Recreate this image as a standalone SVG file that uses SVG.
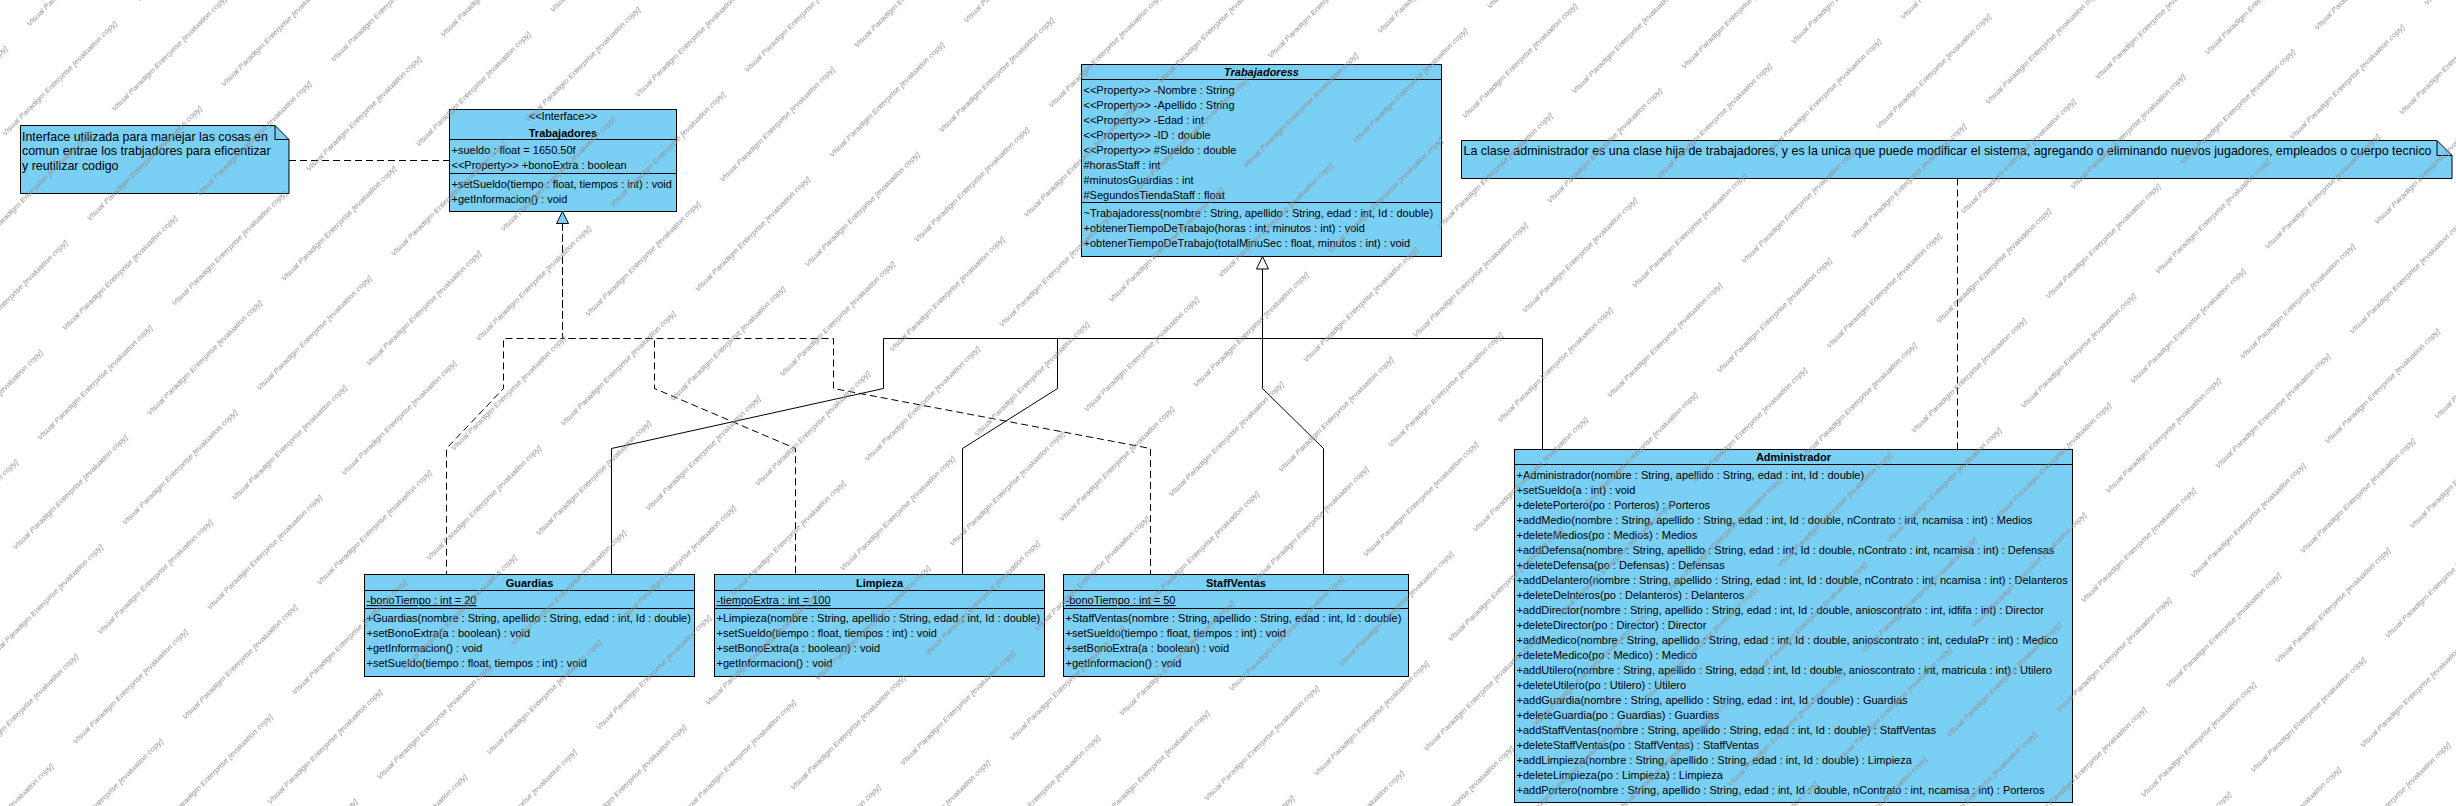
<svg xmlns="http://www.w3.org/2000/svg" width="2456" height="806" viewBox="0 0 2456 806">
<style>
.cls{fill:#7ACFF5;stroke:#000;stroke-width:1}
.note{fill:#7ACFF5;stroke:#000;stroke-width:1}
.fold{fill:none;stroke:#000;stroke-width:1}
.sep{stroke:#000;stroke-width:1}
.t{font-family:"Liberation Sans",Arial,sans-serif;font-size:11px;fill:#000}
.n{font-family:"Liberation Sans",Arial,sans-serif;font-size:12.4px;fill:#000}
.b{font-weight:bold}
.bi{font-weight:bold;font-style:italic}
.c{text-anchor:middle}
.u{text-decoration:underline}
.solid{fill:none;stroke:#000;stroke-width:1}
.dash{fill:none;stroke:#000;stroke-width:1;stroke-dasharray:7,4}
.wm{font-family:"Liberation Sans",Arial,sans-serif;font-style:italic;font-size:8px;fill:#8e8e8e}
</style>
<defs>
<pattern id="wm" patternUnits="userSpaceOnUse" width="190" height="120" patternTransform="rotate(-45)">
<text class="wm" x="2" y="40">Visual Paradigm Enterprise [evaluation copy]</text>
<text class="wm" x="97" y="100">Visual Paradigm Enterprise [evaluation copy]</text>
<text class="wm" x="-93" y="100">Visual Paradigm Enterprise [evaluation copy]</text>
</pattern>
</defs>
<rect x="0" y="0" width="2456" height="806" fill="#fff"/>

<g id="connectors">
<path class="dash" d="M289,160.5 H449"/>
<path class="dash" d="M1957.5,178.5 V449"/>
<path class="dash" d="M562.5,223.5 V338.5 H503.5 V388.5 L446.5,448.5 V574"/>
<path class="dash" d="M562.5,223.5 V338.5 H654.5 V388.5 L795.5,448.5 V574"/>
<path class="dash" d="M562.5,223.5 V338.5 H833.5 V388.5 L1150.5,448.5 V574"/>
<polygon class="cls" points="562.5,211.5 556.5,223.5 568.5,223.5"/>
<path class="solid" d="M1262.5,269 V388.5 L1323.5,448.5 V574"/>
<path class="solid" d="M1262.5,338.5 H883.5 V388.5 L611.5,448.5 V574"/>
<path class="solid" d="M1262.5,338.5 H1057.5 V388.5 L962.5,448.5 V574"/>
<path class="solid" d="M1262.5,338.5 H1542.5 V449"/>
<polygon points="1262.5,256.5 1256.5,269 1268.5,269" fill="#fff" stroke="#000" stroke-width="1"/>
</g>

<g id="note-interface">
<path class="note" d="M20.5,125.5 H275 L289,139.5 V193.5 H20.5 Z"/>
<path class="fold" d="M275,125.5 V139.5 H289"/>
<text class="n" x="22" y="140.5">Interface utilizada para manejar las cosas en</text>
<text class="n" x="22" y="155">comun entrae los trabjadores para eficentizar</text>
<text class="n" x="22" y="169.5">y reutilizar codigo</text>
</g>

<g id="note-administrador">
<path class="note" d="M1461.5,140.5 H2437 L2452,155.5 V178.5 H1461.5 Z"/>
<path class="fold" d="M2437,140.5 V155.5 H2452"/>
<text class="n" x="1463.5" y="154.5" textLength="968" lengthAdjust="spacing">La clase administrador es una clase hija de trabajadores, y es la unica que puede modificar el sistema, agregando o eliminando nuevos jugadores, empleados o cuerpo tecnico</text>
</g>

<g id="interface-trabajadores">
<rect class="cls" x="449.5" y="109.5" width="227" height="102"/>
<line class="sep" x1="449.5" y1="139.5" x2="676.5" y2="139.5"/>
<line class="sep" x1="449.5" y1="173.5" x2="676.5" y2="173.5"/>
<text class="t c" x="563" y="120">&lt;&lt;Interface&gt;&gt;</text>
<text class="t b c" x="563" y="136.5">Trabajadores</text>
<text class="t" x="451.5" y="153.5">+sueldo : float = 1650.50f</text>
<text class="t" x="451.5" y="169">&lt;&lt;Property&gt;&gt; +bonoExtra : boolean</text>
<text class="t" x="451.5" y="187.5">+setSueldo(tiempo : float, tiempos : int) : void</text>
<text class="t" x="451.5" y="202.5">+getInformacion() : void</text>
</g>

<g id="class-trabajadoress">
<rect class="cls" x="1081.5" y="64.5" width="360" height="192"/>
<line class="sep" x1="1081.5" y1="79.5" x2="1441.5" y2="79.5"/>
<line class="sep" x1="1081.5" y1="202.5" x2="1441.5" y2="202.5"/>
<text class="t bi c" x="1261.5" y="76">Trabajadoress</text>
<text class="t" x="1083.5" y="93.5">&lt;&lt;Property&gt;&gt; -Nombre : String</text>
<text class="t" x="1083.5" y="108.5">&lt;&lt;Property&gt;&gt; -Apellido : String</text>
<text class="t" x="1083.5" y="123.5">&lt;&lt;Property&gt;&gt; -Edad : int</text>
<text class="t" x="1083.5" y="138.5">&lt;&lt;Property&gt;&gt; -ID : double</text>
<text class="t" x="1083.5" y="153.5">&lt;&lt;Property&gt;&gt; #Sueldo : double</text>
<text class="t" x="1083.5" y="168.5">#horasStaff : int</text>
<text class="t" x="1083.5" y="183.5">#minutosGuardias : int</text>
<text class="t" x="1083.5" y="198.5">#SegundosTiendaStaff : float</text>
<text class="t" x="1083.5" y="216.5">~Trabajadoress(nombre : String, apellido : String, edad : int, Id : double)</text>
<text class="t" x="1083.5" y="231.5">+obtenerTiempoDeTrabajo(horas : int, minutos : int) : void</text>
<text class="t" x="1083.5" y="246.5">+obtenerTiempoDeTrabajo(totalMinuSec : float, minutos : int) : void</text>
</g>

<g id="class-guardias">
<rect class="cls" x="364.5" y="574.5" width="330" height="102"/>
<line class="sep" x1="364.5" y1="590.5" x2="694.5" y2="590.5"/>
<line class="sep" x1="364.5" y1="608.5" x2="694.5" y2="608.5"/>
<text class="t b c" x="529.5" y="586.5">Guardias</text>
<text class="t u" x="366.5" y="604">-bonoTiempo : int = 20</text>
<text class="t" x="366.5" y="622">+Guardias(nombre : String, apellido : String, edad : int, Id : double)</text>
<text class="t" x="366.5" y="637">+setBonoExtra(a : boolean) : void</text>
<text class="t" x="366.5" y="652">+getInformacion() : void</text>
<text class="t" x="366.5" y="667">+setSueldo(tiempo : float, tiempos : int) : void</text>
</g>

<g id="class-limpieza">
<rect class="cls" x="714.5" y="574.5" width="330" height="102"/>
<line class="sep" x1="714.5" y1="590.5" x2="1044.5" y2="590.5"/>
<line class="sep" x1="714.5" y1="608.5" x2="1044.5" y2="608.5"/>
<text class="t b c" x="879.5" y="586.5">Limpieza</text>
<text class="t u" x="716.5" y="604">-tiempoExtra : int = 100</text>
<text class="t" x="716.5" y="622">+Limpieza(nombre : String, apellido : String, edad : int, Id : double)</text>
<text class="t" x="716.5" y="637">+setSueldo(tiempo : float, tiempos : int) : void</text>
<text class="t" x="716.5" y="652">+setBonoExtra(a : boolean) : void</text>
<text class="t" x="716.5" y="667">+getInformacion() : void</text>
</g>

<g id="class-staffventas">
<rect class="cls" x="1063.5" y="574.5" width="345" height="102"/>
<line class="sep" x1="1063.5" y1="590.5" x2="1408.5" y2="590.5"/>
<line class="sep" x1="1063.5" y1="608.5" x2="1408.5" y2="608.5"/>
<text class="t b c" x="1236" y="586.5">StaffVentas</text>
<text class="t u" x="1065.5" y="604">-bonoTiempo : int = 50</text>
<text class="t" x="1065.5" y="622">+StaffVentas(nombre : String, apellido : String, edad : int, Id : double)</text>
<text class="t" x="1065.5" y="637">+setSueldo(tiempo : float, tiempos : int) : void</text>
<text class="t" x="1065.5" y="652">+setBonoExtra(a : boolean) : void</text>
<text class="t" x="1065.5" y="667">+getInformacion() : void</text>
</g>

<g id="class-administrador">
<rect class="cls" x="1514.5" y="449.5" width="558" height="353"/>
<line class="sep" x1="1514.5" y1="464.5" x2="2072.5" y2="464.5"/>
<text class="t b c" x="1793.5" y="461">Administrador</text>
<text class="t" x="1516.5" y="478.5">+Administrador(nombre : String, apellido : String, edad : int, Id : double)</text>
<text class="t" x="1516.5" y="493.5">+setSueldo(a : int) : void</text>
<text class="t" x="1516.5" y="508.5">+deletePortero(po : Porteros) : Porteros</text>
<text class="t" x="1516.5" y="523.5">+addMedio(nombre : String, apellido : String, edad : int, Id : double, nContrato : int, ncamisa : int) : Medios</text>
<text class="t" x="1516.5" y="538.5">+deleteMedios(po : Medios) : Medios</text>
<text class="t" x="1516.5" y="553.5">+addDefensa(nombre : String, apellido : String, edad : int, Id : double, nContrato : int, ncamisa : int) : Defensas</text>
<text class="t" x="1516.5" y="568.5">+deleteDefensa(po : Defensas) : Defensas</text>
<text class="t" x="1516.5" y="583.5">+addDelantero(nombre : String, apellido : String, edad : int, Id : double, nContrato : int, ncamisa : int) : Delanteros</text>
<text class="t" x="1516.5" y="598.5">+deleteDelnteros(po : Delanteros) : Delanteros</text>
<text class="t" x="1516.5" y="613.5">+addDirector(nombre : String, apellido : String, edad : int, Id : double, anioscontrato : int, idfifa : int) : Director</text>
<text class="t" x="1516.5" y="628.5">+deleteDirector(po : Director) : Director</text>
<text class="t" x="1516.5" y="643.5">+addMedico(nombre : String, apellido : String, edad : int, Id : double, anioscontrato : int, cedulaPr : int) : Medico</text>
<text class="t" x="1516.5" y="658.5">+deleteMedico(po : Medico) : Medico</text>
<text class="t" x="1516.5" y="673.5">+addUtilero(nombre : String, apellido : String, edad : int, Id : double, anioscontrato : int, matricula : int) : Utilero</text>
<text class="t" x="1516.5" y="688.5">+deleteUtilero(po : Utilero) : Utilero</text>
<text class="t" x="1516.5" y="703.5">+addGuardia(nombre : String, apellido : String, edad : int, Id : double) : Guardias</text>
<text class="t" x="1516.5" y="718.5">+deleteGuardia(po : Guardias) : Guardias</text>
<text class="t" x="1516.5" y="733.5">+addStaffVentas(nombre : String, apellido : String, edad : int, Id : double) : StaffVentas</text>
<text class="t" x="1516.5" y="748.5">+deleteStaffVentas(po : StaffVentas) : StaffVentas</text>
<text class="t" x="1516.5" y="763.5">+addLimpieza(nombre : String, apellido : String, edad : int, Id : double) : Limpieza</text>
<text class="t" x="1516.5" y="778.5">+deleteLimpieza(po : Limpieza) : Limpieza</text>
<text class="t" x="1516.5" y="793.5">+addPortero(nombre : String, apellido : String, edad : int, Id : double, nContrato : int, ncamisa : int) : Porteros</text>
</g>

<rect id="watermark" x="0" y="0" width="2456" height="806" fill="url(#wm)" pointer-events="none"/>
</svg>
